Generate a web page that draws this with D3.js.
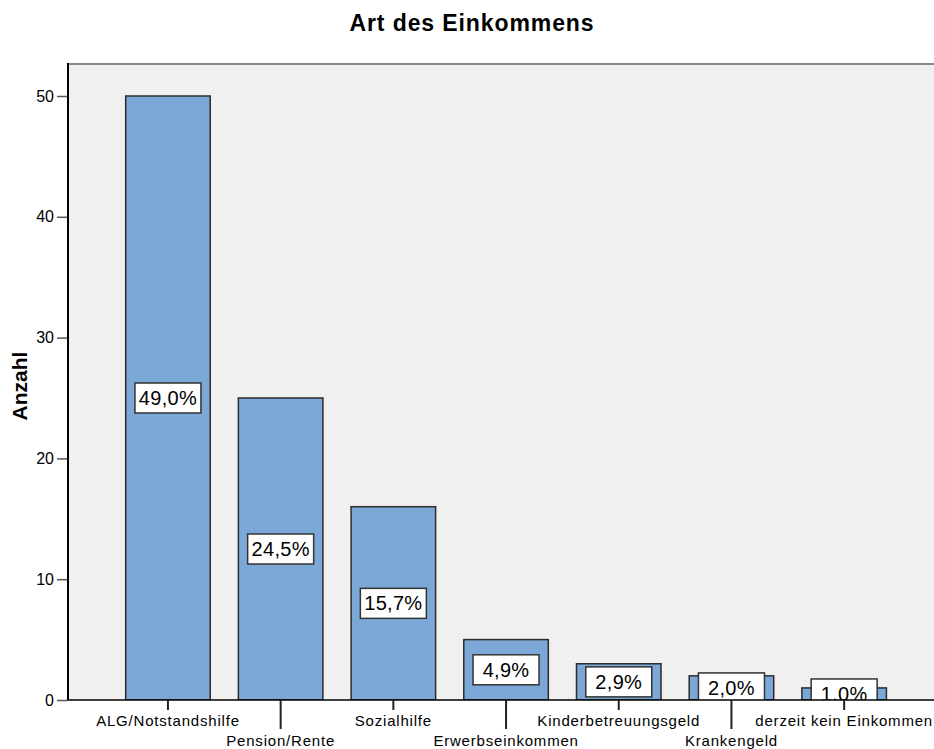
<!DOCTYPE html>
<html>
<head>
<meta charset="utf-8">
<script src="https://cdn.jsdelivr.net/npm/d3@7"></script>
<style>
body { margin: 0; background: #fff; }
text { font-family: Arial, "Liberation Sans", sans-serif; }
</style>
</head>
<body>
<div id="main"></div>
<script>
var categories = ["ALG/Notstandshilfe", "Pension/Rente", "Sozialhilfe", "Erwerbseinkommen",
	"Kinderbetreuungsgeld", "Krankengeld", "derzeit kein Einkommen"];
var counts = [50, 25, 16, 5, 3, 2, 1];
var percents = ["49,0%", "24,5%", "15,7%", "4,9%", "2,9%", "2,0%", "1,0%"];
var yTicks = [0, 10, 20, 30, 40, 50];

var width = 934, height = 749;
var plotLeft = 68, plotRight = 934, plotTop = 64, plotBottom = 700;

var svg = d3.select("#main").append("svg")
	.attr("width", width)
	.attr("height", height);

var x = d3.scaleBand()
	.domain(categories)
	.range([111.6, 900.5])
	.paddingInner(0.25)
	.paddingOuter(0.125);

var y = d3.scaleLinear()
	.domain([0, 50])
	.range([plotBottom, 96]);

// plot background
svg.append("rect")
	.attr("x", plotLeft)
	.attr("y", plotTop)
	.attr("width", plotRight - plotLeft)
	.attr("height", plotBottom - plotTop)
	.attr("fill", "#f0f0f0");

svg.append("line")
	.attr("x1", plotLeft).attr("x2", plotRight)
	.attr("y1", plotTop).attr("y2", plotTop)
	.attr("stroke", "#888").attr("stroke-width", 2);

// title
svg.append("text")
	.attr("x", 472)
	.attr("y", 31)
	.attr("text-anchor", "middle")
	.style("font-size", "23px")
	.style("font-weight", "bold")
	.style("letter-spacing", "0.9px")
	.text("Art des Einkommens");

// bars
svg.append("clipPath").attr("id", "plotclip")
	.append("rect")
	.attr("x", plotLeft).attr("y", plotTop)
	.attr("width", plotRight - plotLeft).attr("height", plotBottom - plotTop);

var plot = svg.append("g").attr("clip-path", "url(#plotclip)");

plot.selectAll(".bar")
	.data(categories)
	.enter().append("rect")
	.attr("class", "bar")
	.attr("x", function(d) { return x(d); })
	.attr("y", function(d, i) { return y(counts[i]); })
	.attr("width", x.bandwidth())
	.attr("height", function(d, i) { return y(0) - y(counts[i]); })
	.attr("fill", "#7ba8d6")
	.attr("stroke", "#2b2b2b")
	.attr("stroke-width", 1.5);

// percent labels
var lab = plot.selectAll(".lab")
	.data(categories)
	.enter().append("g")
	.attr("class", "lab")
	.attr("transform", function(d, i) {
		return "translate(" + (x(d) + x.bandwidth() / 2) + "," + y(counts[i] / 2) + ")";
	});

lab.append("rect")
	.attr("x", -33).attr("y", -15)
	.attr("width", 66).attr("height", 30)
	.attr("fill", "#fff")
	.attr("stroke", "#333")
	.attr("stroke-width", 1.5);

lab.append("text")
	.attr("text-anchor", "middle")
	.attr("y", 7)
	.style("font-size", "20px")
	.style("letter-spacing", "0.3px")
	.text(function(d, i) { return percents[i]; });

// y axis
var yAxis = svg.append("g")
	.attr("transform", "translate(" + plotLeft + ",0)")
	.call(d3.axisLeft(y).tickValues(yTicks).tickSize(11).tickPadding(3));
yAxis.select(".domain").remove();
yAxis.selectAll(".tick line").attr("stroke", "#555").attr("stroke-width", 1.5);
yAxis.selectAll(".tick text")
	.style("font-size", "16px")
	.style("font-family", "Arial, 'Liberation Sans', sans-serif")
	.attr("fill", "#000");

svg.append("line")
	.attr("x1", plotLeft).attr("x2", plotLeft)
	.attr("y1", plotTop - 1).attr("y2", plotBottom)
	.attr("stroke", "#000").attr("stroke-width", 2);

svg.append("text")
	.attr("transform", "translate(27,386) rotate(-90)")
	.attr("text-anchor", "middle")
	.style("font-size", "21px")
	.style("font-weight", "bold")
	.text("Anzahl");

// x axis
svg.append("line")
	.attr("x1", plotLeft).attr("x2", plotRight)
	.attr("y1", plotBottom).attr("y2", plotBottom)
	.attr("stroke", "#000").attr("stroke-width", 1.5);

var xt = svg.selectAll(".xtick")
	.data(categories)
	.enter().append("g")
	.attr("class", "xtick")
	.attr("transform", function(d) { return "translate(" + (x(d) + x.bandwidth() / 2) + "," + plotBottom + ")"; });

xt.append("line")
	.attr("y1", 0)
	.attr("y2", function(d, i) { return i % 2 === 0 ? 10 : 29; })
	.attr("stroke", "#222")
	.attr("stroke-width", 2);

xt.append("text")
	.attr("text-anchor", "middle")
	.attr("y", function(d, i) { return i % 2 === 0 ? 26 : 46; })
	.style("font-size", "15px")
	.style("letter-spacing", "0.8px")
	.text(function(d) { return d; });
</script>
</body>
</html>
